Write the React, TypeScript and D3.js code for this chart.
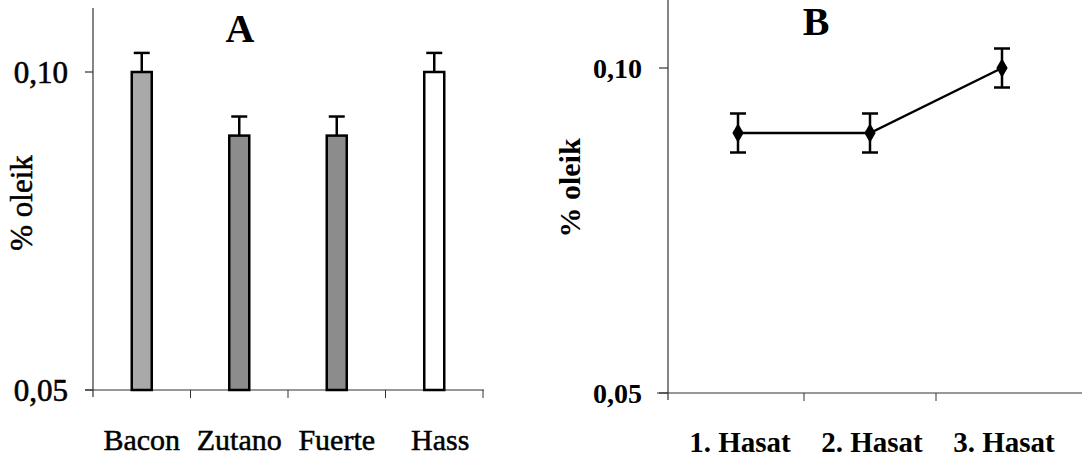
import { useEffect, useRef } from "react";
import * as d3 from "d3";

// panel A: cultivars
const cultivars = ["Bacon", "Zutano", "Fuerte", "Hass"];
const cultivarValues = [0.1, 0.09, 0.09, 0.1];
const cultivarErrors = [0.003, 0.003, 0.003, 0.003];
const cultivarFills = ["#a9a9a9", "#8c8c8c", "#8c8c8c", "#ffffff"];

// panel B: harvests
const harvests = ["1. Hasat", "2. Hasat", "3. Hasat"];
const harvestValues = [0.09, 0.09, 0.1];
const harvestErrors = [0.003, 0.003, 0.003];

const yTicks = [0.05, 0.1];
const fmt = (v: number) => d3.format(".2f")(v).replace(".", ",");

export default function App() {
  const ref = useRef<SVGSVGElement>(null);

  useEffect(() => {
    const svg = d3.select(ref.current);
    svg.selectAll("*").remove();
    const font = "Liberation Serif";

    // ---------- panel A ----------
    const a = svg.append("g");
    const xA = d3.scaleBand().domain(cultivars).range([93, 483]);
    const yA = d3.scaleLinear().domain([0.05, 0.1]).range([390, 72]);

    // axes
    a.append("line").attr("x1", 93).attr("x2", 93).attr("y1", 8).attr("y2", 397)
      .attr("stroke", "#333").attr("stroke-width", 1.2);
    a.append("line").attr("x1", 85).attr("x2", 484).attr("y1", 390).attr("y2", 390)
      .attr("stroke", "#333").attr("stroke-width", 1.2);
    a.selectAll(".yt").data(yTicks).join("line")
      .attr("x1", 85).attr("x2", 93).attr("y1", (d) => yA(d)).attr("y2", (d) => yA(d))
      .attr("stroke", "#333").attr("stroke-width", 1.2);
    const bA = cultivars.map((c) => xA(c)! + xA.bandwidth());
    a.selectAll(".xt").data(bA).join("line")
      .attr("x1", (d) => d).attr("x2", (d) => d).attr("y1", 390).attr("y2", 398)
      .attr("stroke", "#333").attr("stroke-width", 1);

    a.selectAll(".ytl").data(yTicks).join("text")
      .attr("x", 68).attr("y", (d) => yA(d)).attr("text-anchor", "end")
      .attr("dominant-baseline", "central").attr("font-family", font)
      .attr("font-size", 31).attr("fill", "#000")
      .attr("stroke", "#000").attr("stroke-width", 0.6).text((d) => fmt(d));

    const barW = 20;
    // error bars (upper only)
    cultivars.forEach((c, i) => {
      const cx = xA(c)! + xA.bandwidth() / 2;
      const top = yA(cultivarValues[i] + cultivarErrors[i]);
      a.append("line").attr("x1", cx).attr("x2", cx)
        .attr("y1", yA(cultivarValues[i])).attr("y2", top)
        .attr("stroke", "#000").attr("stroke-width", 2.5);
      a.append("line").attr("x1", cx - 8).attr("x2", cx + 8)
        .attr("y1", top).attr("y2", top)
        .attr("stroke", "#000").attr("stroke-width", 2.5);
    });
    a.selectAll(".bar").data(cultivars).join("rect")
      .attr("x", (d) => xA(d)! + xA.bandwidth() / 2 - barW / 2)
      .attr("y", (_, i) => yA(cultivarValues[i]))
      .attr("width", barW)
      .attr("height", (_, i) => yA(0.05) - yA(cultivarValues[i]))
      .attr("fill", (_, i) => cultivarFills[i])
      .attr("stroke", "#000").attr("stroke-width", 2.5);

    a.selectAll(".xl").data(cultivars).join("text")
      .attr("x", (d) => xA(d)! + xA.bandwidth() / 2 + (d === "Hass" ? 6 : 0))
      .attr("y", 450).attr("text-anchor", "middle")
      .attr("font-family", font).attr("font-size", 30).attr("fill", "#000")
      .attr("stroke", "#000").attr("stroke-width", 0.5)
      .text((d) => d);

    a.append("text").attr("x", 240).attr("y", 42).attr("text-anchor", "middle")
      .attr("font-family", font).attr("font-size", 40).attr("font-weight", "bold")
      .text("A");
    a.append("text").attr("transform", "translate(32,203) rotate(-90)")
      .attr("text-anchor", "middle").attr("font-family", font)
      .attr("font-size", 31).attr("stroke", "#000").attr("stroke-width", 0.5)
      .text("% oleik");

    // ---------- panel B ----------
    const b = svg.append("g");
    const xB = d3.scaleBand().domain(harvests).range([672, 1068]);
    const yB = d3.scaleLinear().domain([0.05, 0.1]).range([393, 68]);

    b.append("line").attr("x1", 668).attr("x2", 668).attr("y1", 0).attr("y2", 400)
      .attr("stroke", "#333").attr("stroke-width", 1.2);
    b.append("line").attr("x1", 657).attr("x2", 1082).attr("y1", 393).attr("y2", 393)
      .attr("stroke", "#333").attr("stroke-width", 1.2);
    b.selectAll(".yt").data(yTicks).join("line")
      .attr("x1", 659).attr("x2", 668).attr("y1", (d) => yB(d)).attr("y2", (d) => yB(d))
      .attr("stroke", "#333").attr("stroke-width", 1.2);
    const bB = harvests.slice(0, 2).map((h) => xB(h)! + xB.bandwidth());
    b.selectAll(".xt").data(bB).join("line")
      .attr("x1", (d) => d).attr("x2", (d) => d).attr("y1", 393).attr("y2", 401)
      .attr("stroke", "#333").attr("stroke-width", 1);

    b.selectAll(".ytl").data(yTicks).join("text")
      .attr("x", 642).attr("y", (d) => yB(d)).attr("text-anchor", "end")
      .attr("dominant-baseline", "central").attr("font-family", font)
      .attr("font-size", 28).attr("font-weight", "bold").attr("fill", "#000")
      .text((d) => fmt(d));

    const pts = harvests.map((h, i) => [xB(h)! + xB.bandwidth() / 2, yB(harvestValues[i])] as [number, number]);
    b.append("path").attr("d", d3.line()(pts)!)
      .attr("fill", "none").attr("stroke", "#000").attr("stroke-width", 2.5);

    harvests.forEach((_, i) => {
      const [cx] = pts[i];
      const lo = yB(harvestValues[i] - harvestErrors[i]);
      const hi = yB(harvestValues[i] + harvestErrors[i]);
      b.append("line").attr("x1", cx).attr("x2", cx).attr("y1", lo).attr("y2", hi)
        .attr("stroke", "#000").attr("stroke-width", 2.5);
      [lo, hi].forEach((yy) =>
        b.append("line").attr("x1", cx - 8).attr("x2", cx + 8)
          .attr("y1", yy).attr("y2", yy).attr("stroke", "#000").attr("stroke-width", 2.5)
      );
    });
    b.selectAll(".pt").data(pts).join("path")
      .attr("d", d3.symbol(d3.symbolDiamond, 110)()!)
      .attr("transform", (d) => `translate(${d[0]},${d[1]})`)
      .attr("fill", "#000");

    b.selectAll(".xl").data(harvests).join("text")
      .attr("x", (d) => xB(d)! + xB.bandwidth() / 2 + 2)
      .attr("y", 452).attr("text-anchor", "middle")
      .attr("font-family", font).attr("font-size", 29).attr("font-weight", "bold")
      .attr("fill", "#000").text((d) => d);

    b.append("text").attr("x", 816).attr("y", 35).attr("text-anchor", "middle")
      .attr("font-family", font).attr("font-size", 40).attr("font-weight", "bold")
      .text("B");
    b.append("text").attr("transform", "translate(580,188) rotate(-90)")
      .attr("text-anchor", "middle").attr("font-family", font)
      .attr("font-size", 30).attr("font-weight", "bold").text("% oleik");
  }, []);

  return (
    <svg
      ref={ref}
      width={1082}
      height={462}
      style={{ position: "absolute", left: 0, top: 0, background: "#fff" }}
    />
  );
}
